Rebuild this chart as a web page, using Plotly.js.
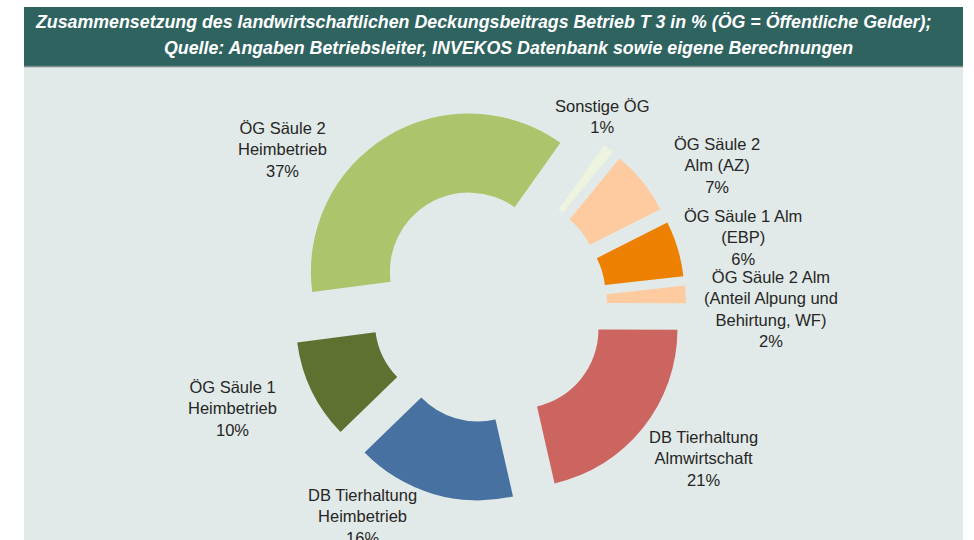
<!DOCTYPE html>
<html>
<head>
<meta charset="utf-8">
<script src="https://cdn.plot.ly/plotly-3.0.1.min.js"></script>
<style>html,body{margin:0;padding:0;background:#fff;}#chart{width:974px;height:540px;}</style>
</head>
<body>
<div id="chart"></div>
<script>
// ---- data ----
var categories = [
  "Sonstige ÖG",
  "ÖG Säule 2 Alm (AZ)",
  "ÖG Säule 1 Alm (EBP)",
  "ÖG Säule 2 Alm (Anteil Alpung und Behirtung, WF)",
  "DB Tierhaltung Almwirtschaft",
  "DB Tierhaltung Heimbetrieb",
  "ÖG Säule 1 Heimbetrieb",
  "ÖG Säule 2 Heimbetrieb"
];
var shares = [1.1, 6.6, 5.7, 1.8, 21.4, 16.3, 10.2, 36.9];
var titleLines = [
  "Zusammensetzung des landwirtschaftlichen Deckungsbeitrags Betrieb T 3 in % (ÖG = Öffentliche Gelder);",
  "Quelle: Angaben Betriebsleiter, INVEKOS Datenbank sowie eigene Berechnungen"
];

// ---- presentation ----
var colors = ["#eef3e0", "#fdcb9f", "#ed8000", "#fdcb9f", "#cc6560", "#4771a1", "#5f7131", "#acc46b"];
var wrapped = [
  ["Sonstige ÖG"],
  ["ÖG Säule 2", "Alm (AZ)"],
  ["ÖG Säule 1 Alm", "(EBP)"],
  ["ÖG Säule 2 Alm", "(Anteil Alpung und", "Behirtung, WF)"],
  ["DB Tierhaltung", "Almwirtschaft"],
  ["DB Tierhaltung", "Heimbetrieb"],
  ["ÖG Säule 1", "Heimbetrieb"],
  ["ÖG Säule 2", "Heimbetrieb"]
];
var labelPos = [[602,116.5],[717,165],[743,237],[771,308.5],[703,458],[362,516],[232,408],[282,149]];
var W = 974, H = 540;

var total = shares.reduce(function(a,b){return a+b;},0);
var annotations = [];
for (var i = 0; i < categories.length; i++) {
  var pct = Math.round(shares[i] / total * 100) + "%";
  annotations.push({
    xref: "paper", yref: "paper",
    x: labelPos[i][0] / W, y: 1 - labelPos[i][1] / H,
    xanchor: "center", yanchor: "middle",
    text: wrapped[i].concat([pct]).join("<br>"),
    showarrow: false, align: "center",
    font: {family: "Liberation Sans, Arial, sans-serif", size: 16.5, color: "#262626"}
  });
}
var titleCenters = [[482.5, 22], [509, 48]];
for (var j = 0; j < titleLines.length; j++) {
  annotations.push({
    xref: "paper", yref: "paper",
    x: titleCenters[j][0] / W, y: 1 - titleCenters[j][1] / H,
    xanchor: "center", yanchor: "middle",
    text: "<b><i>" + titleLines[j] + "</i></b>",
    showarrow: false,
    font: {family: "Liberation Sans Narrow, Arial Narrow, Liberation Sans, sans-serif", size: 17.8, color: "#ffffff"}
  });
}

var trace = {
  type: "pie",
  labels: categories,
  values: shares,
  sort: false,
  direction: "clockwise",
  rotation: 35.4,
  hole: 0.5,
  pull: categories.map(function(){return 0.247;}),
  marker: {colors: colors, line: {width: 0}},
  textinfo: "none",
  hoverinfo: "skip",
  showlegend: false,
  domain: {x: [292/W, 686/W], y: [1 - 502/H, 1 - 108/H]}
};

var layout = {
  width: W, height: H,
  margin: {l: 0, r: 0, t: 0, b: 0},
  paper_bgcolor: "#ffffff",
  showlegend: false,
  shapes: [
    {type: "rect", xref: "paper", yref: "paper", layer: "below",
     x0: 24/W, x1: 963/W, y0: 0, y1: 1 - 66/H, fillcolor: "#e1eae8", line: {width: 0}},
    {type: "rect", xref: "paper", yref: "paper", layer: "below",
     x0: 24/W, x1: 963/W, y0: 1 - 66/H, y1: 1 - 7/H, fillcolor: "#2e6360", line: {width: 0}},
    {type: "line", xref: "paper", yref: "paper", layer: "below",
     x0: 24/W, x1: 963/W, y0: 1 - 66.5/H, y1: 1 - 66.5/H, line: {color: "#7d8c8a", width: 1.5}}
  ],
  annotations: annotations
};

Plotly.newPlot("chart", [trace], layout, {displayModeBar: false, staticPlot: true});
</script>
</body>
</html>
